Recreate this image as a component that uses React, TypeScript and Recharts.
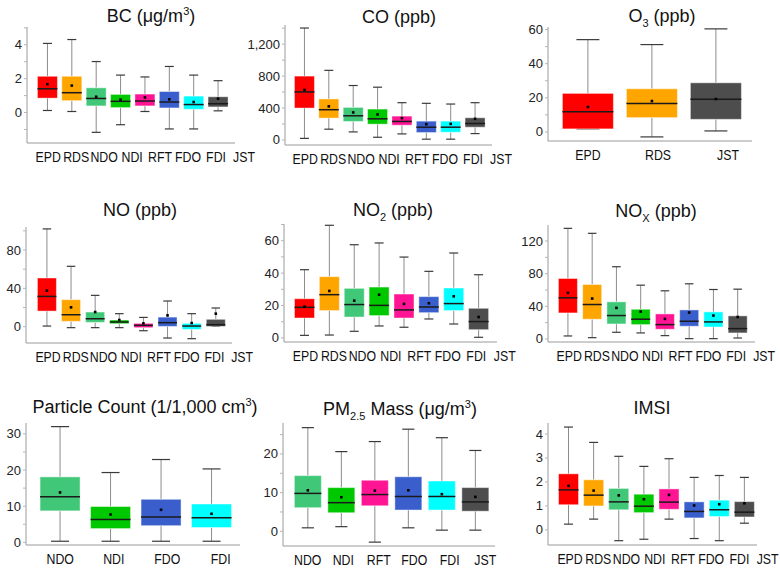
import React from "react";
import { ComposedChart, Bar, XAxis, YAxis } from "recharts";

const SITES_ALL = ["EPD", "RDS", "NDO", "NDI", "RFT", "FDO", "FDI", "JST"];
const SITES_O3 = ["EPD", "RDS", "JST"];
const SITES_PC = ["NDO", "NDI", "FDO", "FDI"];
const SITES_PM = ["NDO", "NDI", "RFT", "FDO", "FDI", "JST"];

// each row: [min, q1, median, q3, max, mean]
const bcStats = [
  [0.12, 0.85, 1.4, 2.14, 4.08, 1.67],
  [0.06, 0.7, 1.17, 2.14, 4.31, 1.59],
  [-1.17, 0.39, 0.83, 1.46, 3.01, 0.93],
  [-0.72, 0.29, 0.66, 1.07, 2.21, 0.76],
  [0.06, 0.39, 0.68, 1.09, 2.1, 0.89],
  [-0.97, 0.27, 0.62, 1.24, 2.72, 0.78],
  [-0.97, 0.19, 0.47, 0.97, 2.21, 0.62],
  [0.1, 0.33, 0.52, 0.93, 1.88, 0.82],
];
const coStats = [
  [20, 400, 602, 800, 1402, 627],
  [135, 274, 379, 514, 872, 421],
  [101, 232, 303, 408, 682, 345],
  [34, 198, 265, 387, 661, 320],
  [76, 185, 232, 299, 467, 274],
  [10, 93, 160, 236, 459, 198],
  [10, 97, 160, 236, 450, 202],
  [80, 160, 206, 278, 467, 265],
];
const o3Stats = [
  [1.8, 1.8, 11.9, 22.6, 54.1, 14.6],
  [-2.9, 8.4, 16.7, 25.3, 51.2, 18.1],
  [0.6, 7.4, 19.1, 28.8, 60.4, 19.3],
];
const noStats = [
  [0.7, 16.3, 31.6, 50.8, 102, 37.6],
  [-1, 5.6, 12.5, 28.2, 63, 20.2],
  [-1, 4.5, 8.3, 15.3, 32.7, 15.3],
  [-1, 3.1, 4.9, 7, 13.6, 7],
  [-4.2, -1, 1.4, 3.5, 9.7, 3.5],
  [-11.8, 0.3, 4.2, 10, 26.8, 11.8],
  [-12.5, -2.8, 0.7, 3.5, 13.6, 3.8],
  [0.3, 0.3, 2.1, 7.7, 19.5, 13.6],
];
const no2Stats = [
  [1.6, 12.3, 18.9, 24.2, 42.1, 19.3],
  [1.8, 16.9, 26.7, 37.8, 69.5, 29],
  [4.1, 12.9, 20.6, 30.6, 57.5, 23],
  [7.4, 13.8, 20.1, 31.4, 58.6, 26.7],
  [6.6, 12.3, 17.3, 27.1, 49.9, 21],
  [11.7, 15.6, 19.1, 25.5, 41.1, 21.4],
  [8.6, 16.9, 21.2, 30.8, 52.4, 25.7],
  [0.4, 5.1, 10.1, 18.3, 39, 12.9],
];
const noxStats = [
  [3.7, 31.9, 50.4, 74.1, 135.5, 56.5],
  [1.6, 24.2, 42.2, 66.7, 129.4, 49.5],
  [8.2, 18.4, 28.7, 45.5, 88.5, 38.1],
  [7.4, 17.6, 24.2, 36.4, 65.9, 33.6],
  [4.1, 11.9, 17.6, 30.7, 59, 24.6],
  [0.4, 15.6, 21.7, 35.6, 67.6, 32.4],
  [0.4, 14.7, 20.9, 33.2, 60.6, 28.7],
  [1.2, 7.4, 12.7, 28.3, 61, 27],
];
const pcStats = [
  [0.3, 8.7, 12.6, 18.1, 32, 13.8],
  [0.3, 3.8, 6.3, 9.9, 19.3, 7.7],
  [0.3, 4.6, 7, 11.9, 22.9, 9],
  [0.3, 4.1, 6.8, 10.6, 20.3, 7.9],
];
const pmStats = [
  [0.9, 6.1, 9.8, 14.4, 26.8, 10.6],
  [1.2, 4.8, 7.4, 11.3, 20.6, 8.8],
  [-2.8, 6.6, 9.5, 13.2, 23.2, 10.5],
  [0.9, 5.5, 9, 14.1, 26.4, 10.6],
  [0.3, 5.5, 9, 13, 24.2, 9.6],
  [0.3, 5.2, 7.6, 11.3, 20.9, 8.9],
];
const imsiStats = [
  [0.24, 1.05, 1.67, 2.34, 4.29, 1.84],
  [0.45, 1.0, 1.45, 2.09, 3.65, 1.64],
  [-0.45, 0.84, 1.17, 1.73, 3.07, 1.44],
  [-0.39, 0.72, 0.99, 1.49, 2.65, 1.28],
  [0.45, 0.86, 1.16, 1.71, 2.97, 1.46],
  [-0.36, 0.5, 0.77, 1.17, 2.19, 1.02],
  [-0.45, 0.56, 0.84, 1.24, 2.27, 1.07],
  [0.28, 0.54, 0.74, 1.18, 2.19, 1.11],
];

const bcTicks = [-1, 0, 1, 2, 3, 4, 5];
const coTicks = [0, 200, 400, 600, 800, 1000, 1200, 1400];
const o3Ticks = [0, 10, 20, 30, 40, 50, 60];
const noTicks = [0, 20, 40, 60, 80, 100];
const no2Ticks = [0, 10, 20, 30, 40, 50, 60, 70];
const noxTicks = [0, 20, 40, 60, 80, 100, 120];
const pcTicks = [0, 5, 10, 15, 20, 25, 30];
const pmTicks = [0, 5, 10, 15, 20, 25];
const imsiTicks = [0, 1, 2, 3, 4];

const SITE_COLORS: Record<string, string> = {
  EPD: "#ff0000",
  RDS: "#ffa500",
  NDO: "#40c878",
  NDI: "#00c800",
  RFT: "#ff1493",
  FDO: "#3a5fcd",
  FDI: "#00ffff",
  JST: "#4d4d4d",
};

const FONT = '"Liberation Sans", Arial, Helvetica, sans-serif';
const AXIS = "#9a9a9a";
const Y_W = 50; // room left of the plot for tick labels
const R_M = 30; // room right of the plot for shifted category labels

const toRows = (sites: string[], stats: number[][]) =>
  sites.map((site, i) => ({
    site,
    min: stats[i][0],
    q1: stats[i][1],
    median: stats[i][2],
    q3: stats[i][3],
    max: stats[i][4],
    mean: stats[i][5],
  }));

// box drawn inside the min..max range bar that recharts positions for us
const BoxShape = (props: any) => {
  const { x, y, width, height, payload } = props;
  if (!payload) return null;
  const top = Math.min(y, y + height);
  const span = Math.abs(height);
  const { min, q1, median, q3, max, mean } = payload;
  const py = (v: number) => top + (span * (max - v)) / (max - min || 1);
  const cx = x + width / 2;
  const cap = width * 0.45;
  const color = SITE_COLORS[payload.site];
  return (
    <g>
      <line x1={cx} x2={cx} y1={py(max)} y2={py(q3)} stroke="#8c8c8c" strokeWidth={1} />
      <line x1={cx} x2={cx} y1={py(q1)} y2={py(min)} stroke="#8c8c8c" strokeWidth={1} />
      <line x1={cx - cap / 2} x2={cx + cap / 2} y1={py(max)} y2={py(max)} stroke="#3a3a3a" strokeWidth={1.2} />
      <line x1={cx - cap / 2} x2={cx + cap / 2} y1={py(min)} y2={py(min)} stroke="#3a3a3a" strokeWidth={1.2} />
      <rect
        x={x}
        y={py(q3)}
        width={width}
        height={py(q1) - py(q3)}
        fill={color}
        stroke="rgba(255,255,255,0.45)"
        strokeWidth={1}
      />
      <line x1={x} x2={x + width} y1={py(median)} y2={py(median)} stroke="#1a1a1a" strokeWidth={1.5} />
      <rect x={cx - 1.3} y={py(mean) - 1.3} width={2.6} height={2.6} fill="#000" />
    </g>
  );
};

// category labels run wider than the boxes, so they drift right a little per step
const SiteTick = (props: any) => {
  const { x, y, payload, index, shift = 0, base = 0 } = props;
  const tx = x + base + shift * (index || 0);
  return (
    <text
      transform={`translate(${tx},${y + 19}) scale(0.85,1)`}
      textAnchor="middle"
      fontSize={14.5}
      fontFamily={FONT}
      fill="#111"
    >
      {payload.value}
    </text>
  );
};

const ValueTick = (props: any) => {
  const { x, y, payload, step } = props;
  const v = payload.value;
  const major = Math.abs(v / step - Math.round(v / step)) < 1e-6;
  if (!major) return null;
  return (
    <text x={x} y={y} dy={4.5} textAnchor="end" fontSize={13} fontFamily={FONT} fill="#222">
      {v.toLocaleString("en-US")}
    </text>
  );
};

interface PanelLayout {
  left: number;
  top: number;
  right: number;
  bottom: number;
  pad: [number, number];
  domain: [number, number];
  step: number;
  shift: number;
  base: number;
}

const BoxPanel = ({
  layout,
  sites,
  stats,
  ticks,
}: {
  layout: PanelLayout;
  sites: string[];
  stats: number[][];
  ticks: number[];
}) => {
  const data = toRows(sites, stats);
  const w = layout.right - layout.left + Y_W + R_M;
  const h = layout.bottom - layout.top + 40;
  return (
    <div style={{ position: "absolute", left: layout.left - Y_W, top: layout.top - 10 }}>
      <ComposedChart
        width={w}
        height={h}
        data={data}
        margin={{ top: 10, right: R_M, bottom: 0, left: 0 }}
        barCategoryGap="10%"
      >
        <XAxis
          dataKey="site"
          height={30}
          padding={{ left: layout.pad[0], right: layout.pad[1] }}
          interval={0}
          tickLine={false}
          tickSize={0}
          tickMargin={0}
          axisLine={{ stroke: AXIS }}
          tick={<SiteTick shift={layout.shift} base={layout.base} />}
        />
        <YAxis
          type="number"
          width={Y_W}
          domain={layout.domain}
          ticks={ticks}
          interval={0}
          tickSize={3}
          tickMargin={2}
          tickLine={{ stroke: "#b5b5b5" }}
          axisLine={{ stroke: AXIS }}
          tick={<ValueTick step={layout.step} />}
        />
        <Bar dataKey={(d: any) => [d.min, d.max]} shape={<BoxShape />} isAnimationActive={false} />
      </ComposedChart>
    </div>
  );
};

const L8 = { shift: 3.6, base: 1 };

const bcLayout: PanelLayout = { left: 27, top: 27, right: 235, bottom: 143, pad: [8, 5], domain: [-1.8, 5.05], step: 2, ...L8 };
const coLayout: PanelLayout = { left: 285, top: 25, right: 492, bottom: 145, pad: [7, 5], domain: [-63, 1440], step: 400, ...L8 };
const o3Layout: PanelLayout = { left: 548, top: 27, right: 752, bottom: 141, pad: [8, 4], domain: [-5.3, 61.5], step: 20, shift: 6, base: 0 };
const noLayout: PanelLayout = { left: 26, top: 227, right: 232, bottom: 343, pad: [9, 4], domain: [-17, 104], step: 40, ...L8 };
const no2Layout: PanelLayout = { left: 284, top: 224, right: 497, bottom: 342, pad: [8, 6], domain: [-2.5, 70.3], step: 20, ...L8 };
const noxLayout: PanelLayout = { left: 548, top: 225, right: 755, bottom: 342, pad: [8, 5], domain: [-3.7, 139.6], step: 40, ...L8 };
const pcLayout: PanelLayout = { left: 26, top: 423, right: 240, bottom: 545, pad: [9, 3], domain: [-0.74, 33], step: 10, shift: 3, base: 0 };
const pmLayout: PanelLayout = { left: 283, top: 423, right: 495, bottom: 546, pad: [8, 3], domain: [-3.8, 28], step: 10, shift: 2, base: 0 };
const imsiLayout: PanelLayout = { left: 548, top: 423, right: 757, bottom: 545, pad: [8, 0], domain: [-0.63, 4.46], step: 1, shift: 3.1, base: 1.5 };

const SMALL = 11;

export default function App() {
  const title = { textAnchor: "middle" as const, fontSize: 18, fontFamily: FONT, fill: "#111" };
  return (
    <div
      style={{
        position: "absolute",
        left: 0,
        top: 0,
        width: 780,
        height: 575,
        background: "#fff",
        overflow: "hidden",
        fontFamily: FONT,
      }}
    >
      <BoxPanel layout={bcLayout} sites={SITES_ALL} stats={bcStats} ticks={bcTicks} />
      <BoxPanel layout={coLayout} sites={SITES_ALL} stats={coStats} ticks={coTicks} />
      <BoxPanel layout={o3Layout} sites={SITES_O3} stats={o3Stats} ticks={o3Ticks} />
      <BoxPanel layout={noLayout} sites={SITES_ALL} stats={noStats} ticks={noTicks} />
      <BoxPanel layout={no2Layout} sites={SITES_ALL} stats={no2Stats} ticks={no2Ticks} />
      <BoxPanel layout={noxLayout} sites={SITES_ALL} stats={noxStats} ticks={noxTicks} />
      <BoxPanel layout={pcLayout} sites={SITES_PC} stats={pcStats} ticks={pcTicks} />
      <BoxPanel layout={pmLayout} sites={SITES_PM} stats={pmStats} ticks={pmTicks} />
      <BoxPanel layout={imsiLayout} sites={SITES_ALL} stats={imsiStats} ticks={imsiTicks} />
      <svg width={780} height={575} style={{ position: "absolute", left: 0, top: 0, pointerEvents: "none" }}>
        <text x={151} y={22} {...title}>
          BC (μg/m
          <tspan fontSize={SMALL} dy={-7}>3</tspan>
          <tspan dy={7}>)</tspan>
        </text>
        <text x={399} y={23} {...title}>
          CO (ppb)
        </text>
        <text x={662} y={22} {...title}>
          O<tspan fontSize={SMALL} dy={5}>3</tspan>
          <tspan dy={-5}> (ppb)</tspan>
        </text>
        <text x={140} y={216} {...title}>
          NO (ppb)
        </text>
        <text x={393} y={216} {...title}>
          NO<tspan fontSize={SMALL} dy={5}>2</tspan>
          <tspan dy={-5}> (ppb)</tspan>
        </text>
        <text x={656} y={217} {...title}>
          NO<tspan fontSize={SMALL} dy={5}>X</tspan>
          <tspan dy={-5}> (ppb)</tspan>
        </text>
        <text x={145} y={413} {...title}>
          Particle Count (1/1,000 cm
          <tspan fontSize={SMALL} dy={-7}>3</tspan>
          <tspan dy={7}>)</tspan>
        </text>
        <text x={400} y={415} {...title}>
          PM<tspan fontSize={SMALL} dy={5}>2.5</tspan>
          <tspan dy={-5}> Mass (μg/m</tspan>
          <tspan fontSize={SMALL} dy={-7}>3</tspan>
          <tspan dy={7}>)</tspan>
        </text>
        <text x={652} y={414} {...title}>
          IMSI
        </text>
      </svg>
    </div>
  );
}
